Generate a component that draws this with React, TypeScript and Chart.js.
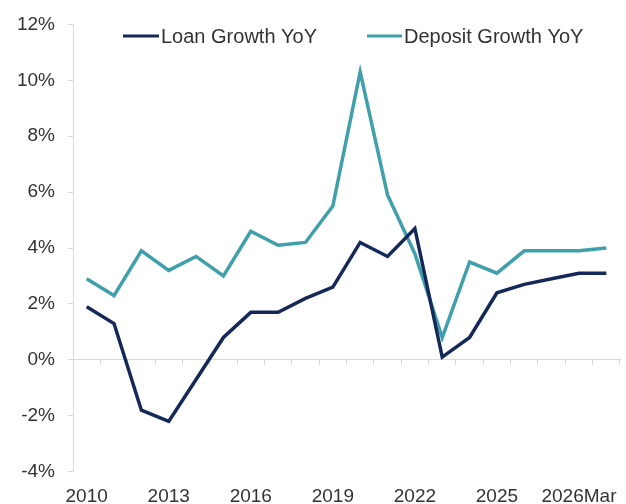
import React, { useEffect, useRef } from "react";
import { Chart, registerables } from "chart.js";

Chart.register(...registerables);

const categories = [
  "2010", "2011", "2012", "2013", "2014", "2015", "2016", "2017", "2018", "2019",
  "2020", "2021", "2022", "2023", "2024", "2025", "2026Jan", "2026Feb", "2026Mar", "2026Apr",
];
const loanGrowth = [1.9, 1.3, -1.8, -2.2, -0.7, 0.8, 1.7, 1.7, 2.2, 2.6, 4.2, 3.7, 4.7, 0.1, 0.8, 2.4, 2.7, 2.9, 3.1, 3.1];
const depositGrowth = [2.9, 2.3, 3.9, 3.2, 3.7, 3.0, 4.6, 4.1, 4.2, 5.5, 10.3, 5.9, 3.8, 0.8, 3.5, 3.1, 3.9, 3.9, 3.9, 4.0];
const yTicks = [-4, -2, 0, 2, 4, 6, 8, 10, 12];

const NAVY = "#15285a";
const TEAL = "#3fa0ab";
const AXIS = "#d9d9d9";
const TEXT = "#333333";
const FONT = "'Liberation Sans', Arial, sans-serif";

const legendPlugin = {
  id: "customLegend",
  afterDraw(chart: any) {
    const ctx = chart.ctx;
    const items = [
      { x1: 123, x2: 159, tx: 161 },
      { x1: 367, x2: 402, tx: 404 },
    ];
    const y = 36;
    ctx.save();
    chart.data.datasets.forEach((ds: any, i: number) => {
      const it = items[i];
      ctx.strokeStyle = ds.borderColor;
      ctx.lineWidth = 3;
      ctx.beginPath();
      ctx.moveTo(it.x1, y);
      ctx.lineTo(it.x2, y);
      ctx.stroke();
      ctx.fillStyle = TEXT;
      ctx.font = `20px ${FONT}`;
      ctx.textBaseline = "middle";
      ctx.textAlign = "left";
      ctx.fillText(ds.label, it.tx, y + 1);
    });
    ctx.restore();
  },
};

export default function App() {
  const ref = useRef<HTMLCanvasElement | null>(null);
  useEffect(() => {
    if (!ref.current) return;
    const chart = new Chart(ref.current, {
      type: "line",
      data: {
        labels: categories,
        datasets: [
          {
            label: "Loan Growth YoY",
            data: loanGrowth,
            borderColor: NAVY,
            backgroundColor: NAVY,
            borderWidth: 3.5,
            pointRadius: 0,
            tension: 0,
            borderJoinStyle: "miter",
          },
          {
            label: "Deposit Growth YoY",
            data: depositGrowth,
            borderColor: TEAL,
            backgroundColor: TEAL,
            borderWidth: 3.5,
            pointRadius: 0,
            tension: 0,
            borderJoinStyle: "miter",
          },
        ],
      },
      options: {
        animation: false,
        responsive: false,
        maintainAspectRatio: false,
        layout: { padding: { top: 22, right: 6, left: 0, bottom: 0 } },
        plugins: {
          legend: { display: false },
          tooltip: { enabled: false },
        },
        scales: {
          x: {
            type: "category",
            position: "bottom",
            offset: true,
            grid: { display: false },
            border: { display: false },
            ticks: {
              autoSkip: false,
              maxRotation: 0,
              padding: 6,
              color: TEXT,
              font: { family: FONT, size: 19 },
              callback: (_v: any, i: number) => (i % 3 === 0 ? categories[i] : ""),
            },
            afterFit: (s: any) => {
              s.height = 32.3;
            },
          },
          x0: {
            type: "category",
            position: { y: 0 },
            offset: true,
            grid: {
              offset: true,
              drawOnChartArea: false,
              drawTicks: true,
              tickLength: 5,
              color: AXIS,
            },
            border: { display: true, color: AXIS },
            ticks: { display: false },
          },
          y: {
            type: "linear",
            position: "left",
            min: -4,
            max: 12,
            afterBuildTicks: (s: any) => {
              s.ticks = yTicks.map((v) => ({ value: v }));
            },
            grid: {
              drawOnChartArea: false,
              drawTicks: true,
              tickLength: 5,
              color: AXIS,
            },
            border: { display: true, color: AXIS },
            ticks: {
              padding: 13,
              color: TEXT,
              font: { family: FONT, size: 19 },
              callback: (v: any) => `${v}%`,
            },
            afterFit: (s: any) => {
              s.width = 73;
            },
          },
        },
      },
      plugins: [legendPlugin],
    });
    return () => chart.destroy();
  }, []);
  return (
    <div style={{ position: "absolute", left: 0, top: 0, width: 626, height: 504, background: "#fff" }}>
      <canvas ref={ref} width={626} height={504} />
    </div>
  );
}
